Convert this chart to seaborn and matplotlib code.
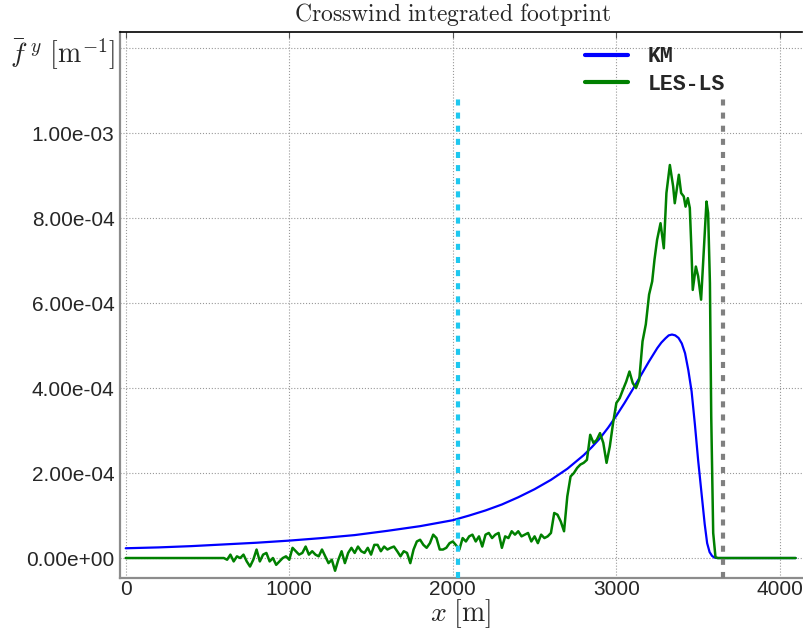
import numpy as np
import pandas as pd
import matplotlib
matplotlib.use("Agg")
import matplotlib.pyplot as plt
import seaborn as sns

# KM analytic footprint (values in 1e-4 m^-1)
km_x = [0, 200, 400, 600, 800, 1000, 1200, 1400, 1600, 1800, 1900, 2000, 2100,
        2200, 2300, 2400, 2500, 2600, 2700, 2800, 2850, 2900, 2950, 3000, 3050,
        3100, 3150, 3200, 3250, 3275, 3300, 3320, 3340, 3360, 3380, 3400, 3420,
        3440, 3460, 3480, 3500, 3520, 3540, 3555, 3570, 3585, 3600, 3617, 4096]
km_y = [0.23, 0.25, 0.28, 0.32, 0.36, 0.41, 0.47, 0.54, 0.64, 0.75, 0.82, 0.89, 1.0,
        1.12, 1.26, 1.43, 1.62, 1.84, 2.10, 2.42, 2.61, 2.82, 3.07, 3.35, 3.65,
        3.97, 4.30, 4.63, 4.94, 5.07, 5.17, 5.24, 5.26, 5.24, 5.18, 5.05, 4.82,
        4.42, 3.92, 3.15, 2.30, 1.55, 0.80, 0.35, 0.14, 0.05, 0.01, 0.0, 0.0]

# LES-LS footprint: noisy part sampled every 20 m from 600 m (1e-4 m^-1)
les_start = 600
les_step = 20
les_noise = [0.0,
             -0.04, 0.08, -0.08, 0.04, 0.0, 0.08, -0.08, -0.2, -0.04, 0.2,
             -0.08, 0.08, 0.12, -0.08, 0.0, -0.16, -0.08, 0.0, 0.04, -0.04,
             0.24, 0.16, 0.08, 0.12, 0.27, 0.08, 0.16, 0.08, 0.04, 0.2,
             0.04, -0.12, -0.04, -0.3, -0.04, 0.16, -0.12, 0.12, 0.24, 0.12,
             0.27, 0.16, 0.12, 0.24, 0.08, 0.31,
             0.31, 0.16, 0.27, 0.2, 0.24, 0.27, 0.16, 0.04, 0.16, 0.12,
             -0.12, 0.2, 0.39, 0.43, 0.31, 0.24, 0.35, 0.55, 0.47, 0.2,
             0.2, 0.24, 0.35, 0.39, 0.3, 0.2, 0.47, 0.39, 0.51, 0.55,
             0.39, 0.51, 0.27, 0.55, 0.59, 0.47, 0.55, 0.59, 0.24, 0.51,
             0.47, 0.63, 0.55, 0.63, 0.51, 0.55, 0.59, 0.39, 0.51,
             0.35, 0.55, 0.47, 0.51, 0.59, 1.06, 1.02, 0.86, 0.63, 1.45,
             1.92, 2.0, 2.12, 2.2, 2.24, 2.31, 2.9, 2.71, 2.78, 2.94,
             2.71, 2.24, 2.63, 3.18, 3.65, 3.76, 3.96, 4.15, 4.39, 4.12,
             4.0, 4.2, 5.1, 5.5, 6.2]
# peak region, read point by point
les_peak_x = [3219, 3233, 3249, 3270, 3290, 3306, 3327, 3347, 3357, 3382, 3396,
              3412, 3423, 3437, 3449, 3459, 3467, 3486, 3500, 3518, 3535, 3551,
              3561, 3572, 3580, 3592, 3606, 3620, 4096]
les_peak_y = [6.51, 7.02, 7.49, 7.88, 7.29, 8.59, 9.25, 8.75, 8.35, 9.02, 8.59,
              8.51, 8.27, 8.47, 8.24, 7.25, 6.31, 6.86, 6.63, 6.08, 7.25, 8.39,
              8.12, 6.47, 3.33, 0.59, 0.02, 0.0, 0.0]

# dashed markers
marker_x = [2030, 3650]
marker_colors = ["#1ec8f0", "#808080"]
marker_top = 10.8e-4

xticks = [0, 1000, 2000, 3000, 4000]
yticks = [0, 2e-4, 4e-4, 6e-4, 8e-4, 10e-4, 12e-4]

km = pd.DataFrame({"x": km_x, "f": np.array(km_y) * 1e-4})
les_x = [0] + list(les_start + les_step * np.arange(len(les_noise))) + les_peak_x
les_y = [0.0] + les_noise + les_peak_y
les = pd.DataFrame({"x": les_x, "f": np.array(les_y) * 1e-4})

sns.set_theme(style="white")
plt.rcParams["mathtext.fontset"] = "cm"
plt.rcParams["font.family"] = ["Liberation Sans", "DejaVu Sans"]

fig = plt.figure(figsize=(8.04, 6.32), dpi=100)
ax = fig.add_axes([120 / 804, 54 / 632, 682 / 804, 546 / 632])

sns.lineplot(data=km, x="x", y="f", color="#0000ff", lw=1.6, ax=ax, label="KM")
sns.lineplot(data=les, x="x", y="f", color="#008000", lw=1.8, ax=ax, label="LES-LS")

ylo, yhi = -0.47e-4, 12.38e-4
ax.set_xlim(-35, 4135)
ax.set_ylim(ylo, yhi)

for xv, c in zip(marker_x, marker_colors):
    ax.axvline(xv, ymin=0, ymax=(marker_top - ylo) / (yhi - ylo), color=c,
               lw=3, dashes=(1.45, 1.7), zorder=5)

ax.set_xticks(xticks)
ax.set_yticks(yticks)
ax.set_yticklabels([f"{v:.2e}" if v < 1.1e-3 else "" for v in yticks])
ax.tick_params(direction="in", top=True, right=False, length=4, width=0.8,
               labelsize=15, color="#555555")
ax.tick_params(axis="y", pad=4)
ax.tick_params(axis="x", pad=1.5)
ax.grid(True, ls=":", color="#999999", lw=0.8)
ax.set_axisbelow(True)

ax.spines["top"].set_color("black")
ax.spines["top"].set_linewidth(1.2)
for s in ["left", "bottom"]:
    ax.spines[s].set_color("#8c8c8c")
    ax.spines[s].set_linewidth(1.6)
ax.spines["right"].set_visible(False)

ax.set_title(r"$\mathrm{Crosswind\ integrated\ footprint}$", fontsize=17,
             x=0.488, pad=8)
ax.set_xlabel(r"$x\ [\mathrm{m}]$", fontsize=20)
ax.xaxis.set_label_coords(0.5, -(614 - 578) / 546)
ax.xaxis.label.set_va("center")
ax.set_ylabel("")
fig.text(10 / 804, 1 - 54 / 632, r"$\bar{f}^{\ y}\ [\mathrm{m}^{-1}]$",
         fontsize=20, ha="left", va="center")

handles, labels = ax.get_legend_handles_labels()
leg = ax.legend(handles, labels, frameon=False, loc="upper left",
                bbox_to_anchor=(0.682, 0.974),
                prop=dict(family="Liberation Mono", weight="bold", size=15.5),
                handlelength=2.0, handletextpad=0.9, labelspacing=0.3,
                borderpad=0, borderaxespad=0)
for line in leg.get_lines():
    line.set_linewidth(3)

fig.savefig("out.png", dpi=100)
